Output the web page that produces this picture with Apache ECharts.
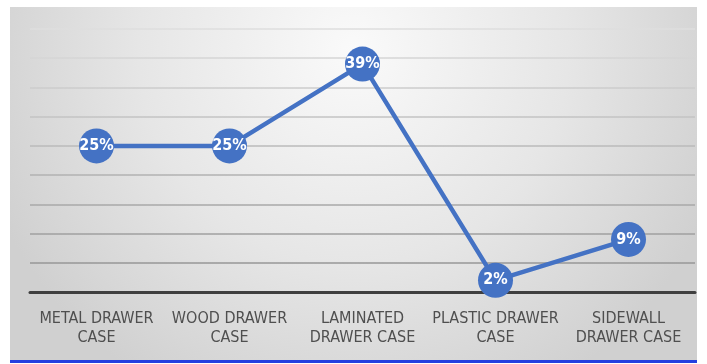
<!DOCTYPE html>
<html>
<head>
<meta charset="utf-8">
<script src="https://cdn.jsdelivr.net/npm/echarts@6/dist/echarts.min.js"></script>
<style>
  html, body { margin: 0; padding: 0; background: #ffffff; }
  #chart { width: 707px; height: 364px; }
</style>
</head>
<body>
<div id="chart"></div>
<script>
const categories = [
  'METAL DRAWER\nCASE',
  'WOOD DRAWER\nCASE',
  'LAMINATED\nDRAWER CASE',
  'PLASTIC DRAWER\nCASE',
  'SIDEWALL\nDRAWER CASE'
];
const shareValues = [25, 25, 39, 2, 9];
const yMin = 0, yMax = 45, yInterval = 5;

const FONT = "'Liberation Sans Narrow', 'DejaVu Sans Condensed', 'Roboto Condensed', 'Liberation Sans', sans-serif";

const chart = echarts.init(document.getElementById('chart'), null, { renderer: 'canvas' });
chart.setOption({
  backgroundColor: '#ffffff',
  animation: false,
  graphic: [
    {
      type: 'rect', z: -100, silent: true,
      shape: { x: 10, y: 7, width: 687, height: 355 },
      style: {
        fill: {
          type: 'radial', x: 0.5, y: 0.12, r: 1.1,
          colorStops: [
            { offset: 0, color: '#fafafa' },
            { offset: 0.55, color: '#e6e6e6' },
            { offset: 1, color: '#d0d0d0' }
          ]
        }
      }
    },
    {
      type: 'rect', z: 100, silent: true,
      shape: { x: 10, y: 360, width: 687, height: 3 },
      style: { fill: '#2440e0' }
    }
  ],
  grid: { left: 30, right: 12, top: 29, bottom: 72, containLabel: false },
  xAxis: {
    type: 'category',
    data: categories,
    boundaryGap: true,
    axisTick: { show: false },
    axisLine: { show: true, lineStyle: { color: '#3f3f3f', width: 3 } },
    axisLabel: {
      interval: 0,
      color: '#4f4f4f',
      fontFamily: FONT,
      fontSize: 16,
      lineHeight: 19,
      margin: 17
    },
    splitLine: { show: false }
  },
  yAxis: {
    type: 'value',
    min: yMin, max: yMax, interval: yInterval,
    axisLabel: { show: false },
    axisLine: { show: false },
    axisTick: { show: false },
    splitLine: {
      show: true,
      lineStyle: {
        width: 1.5,
        color: {
          type: 'linear', x: 0, y: 29, x2: 0, y2: 292, global: true,
          colorStops: [
            { offset: 0, color: '#dedede' },
            { offset: 1, color: '#8e8e8e' }
          ]
        }
      }
    }
  },
  series: [{
    type: 'line',
    data: shareValues,
    symbol: 'circle',
    symbolSize: 35,
    lineStyle: { color: '#4472C4', width: 4.5 },
    itemStyle: { color: '#4472C4' },
    z: 5,
    label: {
      show: true,
      position: 'inside',
      formatter: '{c}%',
      color: '#ffffff',
      fontFamily: FONT,
      fontWeight: 'bold',
      fontSize: 16
    }
  }]
});
</script>
</body>
</html>
